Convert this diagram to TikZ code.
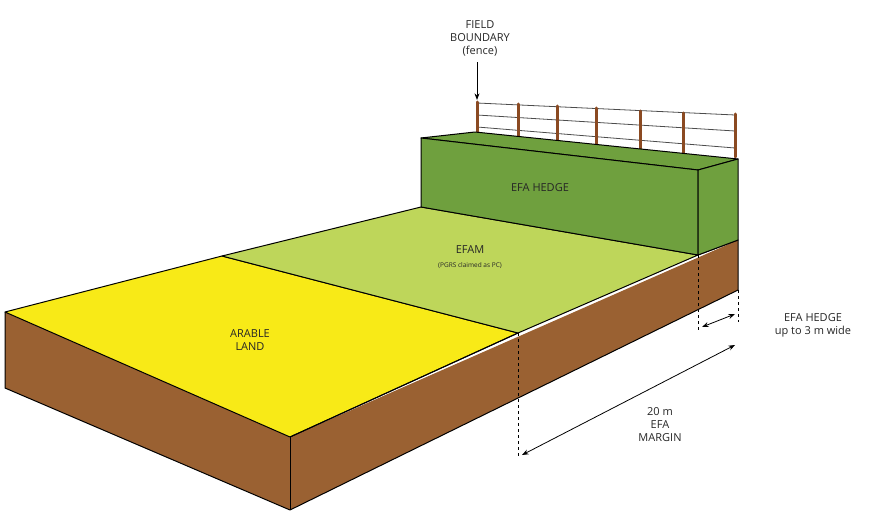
\documentclass[tikz,border=0pt]{standalone}
\usepackage{fontspec}
\setmainfont{Open Sans}
\usetikzlibrary{arrows.meta}
\definecolor{soil}{HTML}{9A6132}
\definecolor{arable}{HTML}{F8EA17}
\definecolor{efam}{HTML}{BED65A}
\definecolor{hedge}{HTML}{6FA03E}
\definecolor{post}{HTML}{8B4A22}
\tikzset{face/.style={draw=black,line width=1pt,line join=round},
 lbl/.style={align=center,font=\fontsize{11}{13}\selectfont,text=black!85},
 dim/.style={dashed,line width=0.8pt},
 dimarrow/.style={{Stealth}-{Stealth},line width=0.8pt},
 postst/.style={post,line width=3pt,line cap=round}}
\begin{document}
\begin{tikzpicture}[x=1pt,y=-1pt]
\useasboundingbox (0,0) rectangle (874,513);
% soil
\fill[soil] (5,312) -- (290,437) -- (738,240) -- (738,290) -- (290,510) -- (5,388) -- cycle;
\draw[face] (5,312) -- (5,388) -- (290,510) -- (738,290);
\draw[face] (290,437) -- (290,510);
% arable
\draw[face,fill=arable] (5,312) -- (222,256) -- (518,333) -- (290,437) -- cycle;
% efam
\draw[face,fill=efam] (222,256) -- (421,207) -- (698,255) -- (518,333) -- cycle;
\draw[face] (518,333) -- (290,437);
\draw[face] (698,255) -- (738,240) -- (738,290);
% fence
\foreach \a/\b in {103/115,115/131,127/148}
  \draw[black!70,line width=0.8pt] (477,\a) -- (735,\b);
\foreach \x/\t/\bb in {477/102/133,518/104/137,557/106/141,596/108/145,640/111/149,683/113/153,735/114/157}
  \draw[postst] (\x,\t) -- (\x,\bb);
% hedge
\draw[face,fill=hedge] (421,138) -- (475,132) -- (738,159) -- (698,170) -- cycle;
\draw[face,fill=hedge] (421,138) -- (698,170) -- (698,255) -- (421,207) -- cycle;
\draw[face,fill=hedge] (698,170) -- (738,159) -- (738,240) -- (698,255) -- cycle;
% labels
\node[lbl] (hl) at (540,188) {EFA HEDGE};
\node[lbl] (el) at (470,250) {EFAM};
\node[lbl,font=\fontsize{6.5}{8}\selectfont] (es) at (470,266) {(PGRS claimed as PC)};
\node[lbl] (al) at (250,340) {ARABLE\\LAND};
\node[lbl] (fb) at (480,38) {FIELD\\BOUNDARY\\(fence)};
\coordinate (ptop) at (477,100);
\draw[-{Stealth},line width=0.8pt] (fb.south -| ptop) ++(0,3) -- (ptop);
% dimensions
\coordinate (d1t) at (518,333); \coordinate (d1b) at (518,457);
\coordinate (d2t) at (698,255); \coordinate (d2b) at (698,330);
\coordinate (d3t) at (738,290); \coordinate (d3b) at (738,322);
\draw[dim] (d1t) -- (d1b);
\draw[dim] (d2t) -- (d2b);
\draw[dim] (d3t) -- (d3b);
\draw[dimarrow] (522,455) -- (735,345);
\draw[dimarrow] (702,327) -- (735,314);
\node[lbl] (m20) at (660,425) {20 m\\EFA\\MARGIN};
\node[lbl] (hw) at (813,325) {EFA HEDGE\\up to 3 m wide};
\end{tikzpicture}
\end{document}
